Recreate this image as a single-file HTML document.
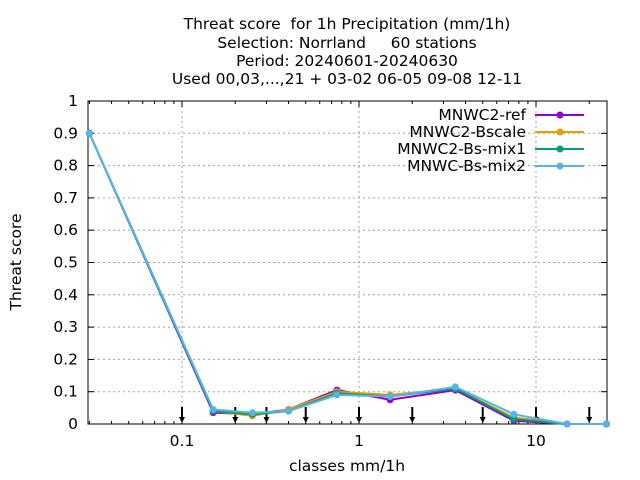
<!DOCTYPE html>
<html><head><meta charset="utf-8"><style>
body{margin:0;background:#fff}
svg{font-family:"DejaVu Sans","Liberation Sans",sans-serif;display:block}
text{white-space:pre}
</style></head><body>
<svg id="c" width="640" height="480">
<g font-size="15.5" text-anchor="middle" fill="#000">
<text x="347" y="29" xml:space="preserve">Threat score  for 1h Precipitation (mm/1h)</text>
<text x="347" y="48" xml:space="preserve">Selection: Norrland     60 stations</text>
<text x="347" y="66">Period: 20240601-20240630</text>
<text x="347" y="84">Used 00,03,...,21 + 03-02 06-05 09-08 12-11</text>
</g>
<text x="21" y="262" font-size="15.5" text-anchor="middle" transform="rotate(-90 21 262)">Threat score</text>
<text x="347" y="471" font-size="15.5" text-anchor="middle">classes mm/1h</text>
<g id="grid"></g><g id="axes"></g><g id="arrows"></g><g id="series"></g><g id="legend"></g>
</svg>
<script>
const categories=[0.03,0.15,0.25,0.4,0.75,1.5,3.5,7.5,15,25];
const seriesNames=["MNWC2-ref","MNWC2-Bscale","MNWC2-Bs-mix1","MNWC-Bs-mix2"];
const seriesColors=["#9400d3","#e69f00","#009e73","#56b4e9"];
const ref=[0.9,0.035,0.03,0.045,0.105,0.075,0.105,0.01,0.0,0.0];
const bscale=[0.9,0.04,0.025,0.045,0.1,0.09,0.11,0.02,0.0,0.0];
const mix1=[0.9,0.04,0.03,0.04,0.095,0.085,0.11,0.015,0.0,0.0];
const mix2=[0.9,0.045,0.035,0.04,0.09,0.085,0.115,0.03,0.0,0.0];
const yTicks=[0,0.1,0.2,0.3,0.4,0.5,0.6,0.7,0.8,0.9,1];
const yTickLabels=["0","0.1","0.2","0.3","0.4","0.5","0.6","0.7","0.8","0.9","1"];
const xMajor=[0.1,1,10];
const xMajorLabels=["0.1","1","10"];
const arrowX=[0.1,0.2,0.3,0.5,1,2,5,10,20];
const L=88,R=607,T=101,B=424;
const xs=v=>182+177*(Math.log10(v)+1);
const ys=v=>B-(B-T)*v;
const NS="http://www.w3.org/2000/svg";
function mk(t,a,p){const e=document.createElementNS(NS,t);for(const k in a)e.setAttribute(k,a[k]);p.appendChild(e);return e;}
const grid=document.getElementById('grid'),axes=document.getElementById('axes');
yTicks.forEach((v,i)=>{const y=ys(v);
 if(i>0&&i<yTicks.length-1){const g=mk('line',{x1:L,x2:R,y1:y,y2:y,stroke:'#a0a0a0','stroke-dasharray':'2,3'},grid);}
 mk('line',{x1:L,x2:L+6,y1:y,y2:y,stroke:'#000'},axes);mk('line',{x1:R,x2:R-6,y1:y,y2:y,stroke:'#000'},axes);
 const t=mk('text',{x:L-10,y:y+5,'font-size':15.5,'text-anchor':'end'},axes);t.textContent=yTickLabels[i];
 });
for(let d=-2;d<=1;d++)for(let m=1;m<10;m++){const v=m*Math.pow(10,d);if(v<0.03||v>25)continue;const x=xs(v);const len=m==1?6:3;
 mk('line',{x1:x,x2:x,y1:B,y2:B-len,stroke:'#000'},axes);mk('line',{x1:x,x2:x,y1:T,y2:T+len,stroke:'#000'},axes);}
xMajor.forEach((v,i)=>{const x=xs(v);
 const g=mk('line',{x1:x,x2:x,y1:T,y2:B,stroke:'#a0a0a0','stroke-dasharray':'2,3'},grid);
 const t=mk('text',{x:x,y:B+22,'font-size':15.5,'text-anchor':'middle'},axes);t.textContent=xMajorLabels[i];
 });
const fr=mk('rect',{x:L,y:T,width:R-L,height:B-T,fill:'none',stroke:'#000'},axes);

const ar=document.getElementById('arrows');
arrowX.forEach(v=>{const x=xs(v);
 const a=mk('line',{x1:x,x2:x,y1:B-17,y2:B-5,stroke:'#000','stroke-width':2},ar);
 mk('polygon',{points:`${x-3},${B-7} ${x+3},${B-7} ${x},${B-1}`,fill:'#000'},ar);});
const data=[ref,bscale,mix1,mix2];
const sg=document.getElementById('series'),lg=document.getElementById('legend');
data.forEach((s,k)=>{const g=mk('g',{},sg);
 const pts=s.map((v,i)=>xs(categories[i])+','+ys(v)).join(' ');
 mk('polyline',{points:pts,fill:'none',stroke:seriesColors[k],'stroke-width':2},g);
 s.forEach((v,i)=>{const c=mk('circle',{cx:xs(categories[i]),cy:ys(v),r:3.5,fill:seriesColors[k]},g);});
 const y=115+17*k;
 const e=mk('g',{},lg);
 const t=mk('text',{x:526,y:y+5,'font-size':15.5,'text-anchor':'end'},e);t.textContent=seriesNames[k];
 mk('line',{x1:535,x2:584,y1:y,y2:y,stroke:seriesColors[k],'stroke-width':2},e);
 mk('circle',{cx:560,cy:y,r:3.5,fill:seriesColors[k]},e);});
</script>
</body></html>
